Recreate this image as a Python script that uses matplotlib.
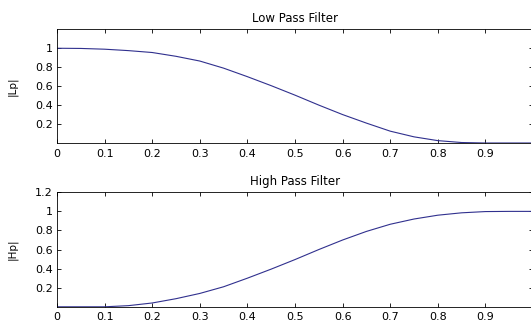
import numpy as np
import matplotlib
matplotlib.use("Agg")
import matplotlib.pyplot as plt

plt.rcParams['font.family'] = ['DejaVu Sans']

# values
freq = [0.0, 0.05, 0.1, 0.15, 0.2, 0.25, 0.3, 0.35, 0.4, 0.45, 0.5,
        0.55, 0.6, 0.65, 0.7, 0.75, 0.8, 0.85, 0.9, 0.95, 1.0]
lp = [1.0, 0.998, 0.99, 0.975, 0.955, 0.915, 0.865, 0.79, 0.70, 0.605, 0.505,
      0.40, 0.30, 0.21, 0.125, 0.065, 0.025, 0.005, 0.0, 0.0, 0.0]
hp = [0.0, 0.0, 0.0, 0.012, 0.04, 0.085, 0.14, 0.21, 0.30, 0.395, 0.495,
      0.60, 0.70, 0.79, 0.865, 0.92, 0.96, 0.985, 0.998, 1.0, 1.0]

xticks = [0, 0.1, 0.2, 0.3, 0.4, 0.5, 0.6, 0.7, 0.8, 0.9, 1]
xlabels = ['0', '0.1', '0.2', '0.3', '0.4', '0.5', '0.6', '0.7', '0.8', '0.9', '1']
lp_yticks = [0.2, 0.4, 0.6, 0.8, 1]
lp_ylabels = ['0.2', '0.4', '0.6', '0.8', '1']
hp_yticks = [0.2, 0.4, 0.6, 0.8, 1, 1.2]
hp_ylabels = ['0.2', '0.4', '0.6', '0.8', '1', '1.2']

W, H = 531, 322
fig = plt.figure(figsize=(W / 100, H / 100), dpi=100)

def px_axes(left, top, right, bottom):
    return fig.add_axes([left / W, 1 - bottom / H, (right - left) / W, (bottom - top) / H])

def style(ax, title, ylab, yt, yl):
    ax.set_xlim(0, 1)
    ax.set_ylim(0, 1.2)
    ax.set_xticks(xticks)
    ax.set_xticklabels(xlabels)
    ax.set_yticks(yt)
    ax.set_yticklabels(yl)
    ax.tick_params(direction='in', length=3, width=0.6, labelsize=8,
                   top=True, right=True, colors='black')
    ax.tick_params(axis='x', pad=4)
    ax.tick_params(axis='y', pad=3)
    for s in ax.spines.values():
        s.set_linewidth(0.6)
    ax.set_title(title, fontsize=8.5, pad=5.5)
    ax.set_ylabel(ylab, fontsize=7.5)
    ax.yaxis.set_label_coords(-(57 - 18) / 476, 0.5)

line_color = '#30308e'

ax1 = px_axes(57, 29.3, 533, 143)
ax1.plot(freq, lp, color=line_color, lw=0.8)
style(ax1, 'Low Pass Filter', '|Lp|', lp_yticks, lp_ylabels)

ax2 = px_axes(57, 192.3, 533, 306.8)
ax2.plot(freq, hp, color=line_color, lw=0.8)
style(ax2, 'High Pass Filter', '|Hp|', hp_yticks, hp_ylabels)

fig.savefig('out.png', dpi=100)
